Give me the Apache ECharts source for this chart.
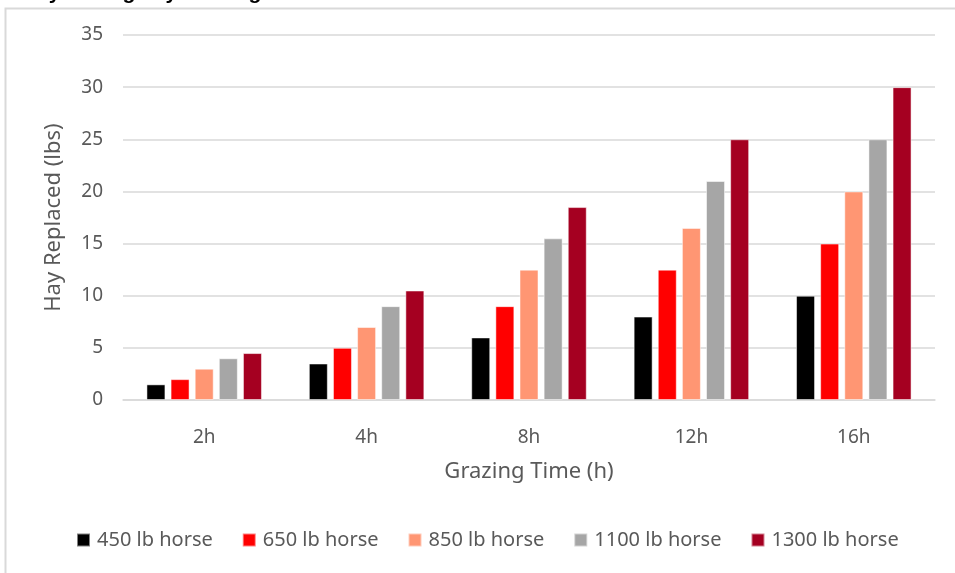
<!DOCTYPE html>
<html>
<head>
<meta charset="utf-8">
<script src="https://cdn.jsdelivr.net/npm/echarts@6/dist/echarts.min.js"></script>
<style>html,body{margin:0;padding:0;background:#fff;}#c{width:955px;height:573px;}</style>
</head>
<body>
<div id="c"></div>
<script>
const categories = ['2h', '4h', '8h', '12h', '16h'];
const seriesNames = ['450 lb horse', '650 lb horse', '850 lb horse', '1100 lb horse', '1300 lb horse'];
const horse450 = [1.5, 3.5, 6, 8, 10];
const horse650 = [2, 5, 9, 12.5, 15];
const horse850 = [3, 7, 12.5, 16.5, 20];
const horse1100 = [4, 9, 15.5, 21, 25];
const horse1300 = [4.5, 10.5, 18.5, 25, 30];
const yTicks = [0, 5, 10, 15, 20, 25, 30, 35];
const colors = ['#000000', '#FF0000', '#FF9673', '#A6A6A6', '#A50021'];
const values = [horse450, horse650, horse850, horse1100, horse1300];

const FONT = '"Noto Sans", sans-serif';
const chart = echarts.init(document.getElementById('c'), null, {renderer: 'canvas'});
chart.setOption({
  animation: false,
  backgroundColor: '#fff',
  graphic: [
    {type: 'rect', left: 3, top: 6, shape: {width: 1000, height: 1000}, style: {fill: 'none', stroke: '#D9D9D9', lineWidth: 2}, silent: true},
    {type: 'text', left: 22, top: -17, style: {text: 'Hay Savings by Grazing', font: 'bold 21px "Liberation Sans", sans-serif', fill: '#000'}}
  ],
  grid: {left: 123, right: 20, top: 35, bottom: 173},
  legend: {
    data: seriesNames, bottom: 18, left: 71,
    icon: 'rect', itemWidth: 13, itemHeight: 13, itemGap: 29,
    textStyle: {color: '#595959', fontSize: 20, fontFamily: FONT, padding: [0, 0, 0, 2]}
  },
  xAxis: {
    type: 'category', data: categories,
    axisLine: {lineStyle: {color: '#D9D9D9', width: 1.5}},
    axisTick: {show: false},
    axisLabel: {color: '#595959', fontSize: 19, fontFamily: FONT, margin: 28},
    name: 'Grazing Time (h)', nameLocation: 'middle', nameGap: 61,
    nameTextStyle: {color: '#595959', fontSize: 22, fontFamily: FONT}
  },
  yAxis: {
    type: 'value', min: yTicks[0], max: yTicks[yTicks.length - 1], interval: 5,
    axisLine: {show: false}, axisTick: {show: false},
    splitLine: {lineStyle: {color: '#D9D9D9', width: 1.5}},
    axisLabel: {color: '#595959', fontSize: 19, fontFamily: FONT, margin: 20},
    name: 'Hay Replaced (lbs)', nameLocation: 'middle', nameGap: 58, nameRotate: 90,
    nameTextStyle: {color: '#595959', fontSize: 22, fontFamily: FONT}
  },
  series: seriesNames.map((n, i) => ({
    name: n, type: 'bar', data: values[i], barWidth: 19, barGap: '27%',
    itemStyle: {color: colors[i], borderColor: 'rgba(255,255,255,0.5)', borderWidth: 1}
  }))
});
</script>
</body>
</html>
